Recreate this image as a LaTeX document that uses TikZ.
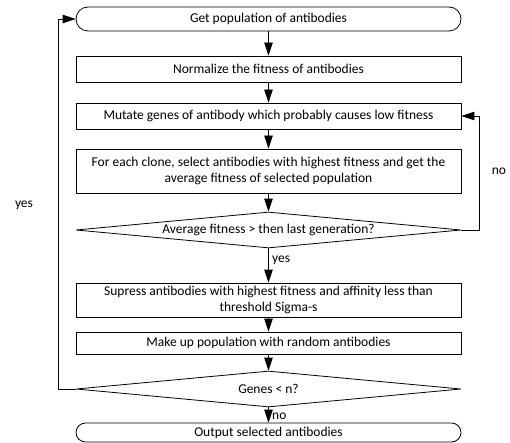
\documentclass[tikz,border=0pt]{standalone}
\usepackage{fontspec}
\setmainfont{Carlito}
\usetikzlibrary{shapes.geometric,arrows.meta}
\begin{document}
\begin{tikzpicture}[x=1pt,y=-1pt,
  every node/.style={font=\fontsize{13.5}{16}\selectfont},
  base/.style={draw=black,line width=0.8pt,minimum width=385pt,inner sep=0pt,align=center},
  proc/.style={base,rectangle},
  term/.style={base,rectangle,rounded corners=#1},
  dec/.style={draw=black,line width=0.8pt,diamond,aspect=10.7,inner sep=0pt,minimum width=385pt,minimum height=36pt},
  conn/.style={draw=black,line width=0.8pt,-{Triangle[length=13pt,width=8.5pt]}},
  lbl/.style={inner sep=0pt}]
\useasboundingbox (0,0) rectangle (510,443);
\node[term=12pt,minimum height=24pt] (start) at (268.5,19) {Get population of antibodies};
\node[proc,minimum height=26pt] (norm) at (268.5,69) {Normalize the fitness of antibodies};
\node[proc,minimum height=26pt] (mut) at (268.5,116) {Mutate genes of antibody which probably causes low fitness};
\node[proc,minimum height=44pt] (sel) at (268.5,171) {For each clone, select antibodies with highest fitness and get the\\average fitness of selected population};
\node[dec] (d1) at (268.5,230) {Average fitness > then last generation?};
\node[proc,minimum height=34pt] (sup) at (268.5,300) {Supress antibodies with highest fitness and affinity less than\\threshold Sigma-s};
\node[proc,minimum height=22pt] (mk) at (268.5,343) {Make up population with random antibodies};
\node[dec] (d2) at (268.5,389) {Genes < n?};
\node[term=9.5pt,minimum height=19pt] (out) at (268.5,432.5) {Output selected antibodies};
\coordinate (lb) at (58,389);
\coordinate (lt) at (58,19);
\coordinate (rb) at (479,230);
\coordinate (rt) at (479,116);
\draw[conn] (start) -- (norm);
\draw[conn] (norm) -- (mut);
\draw[conn] (mut) -- (sel);
\draw[conn] (sel) -- (d1);
\draw[conn] (d1) -- (sup);
\draw[conn] (sup) -- (mk);
\draw[conn] (mk) -- (d2);
\draw[conn] (d2) -- (out);
\draw[conn] (d2.west) -- (lb) -- (lt) -- (start.west);
\draw[conn] (d1.east) -- (rb) -- (rt) -- (mut.east);
\node[lbl,anchor=west] (ly1) at (272,260) {yes};
\node[lbl,anchor=west] (ln2) at (272,416) {no};
\node[lbl] (ly2) at (24,205) {yes};
\node[lbl] (ln1) at (499,171) {no};
\end{tikzpicture}
\end{document}
